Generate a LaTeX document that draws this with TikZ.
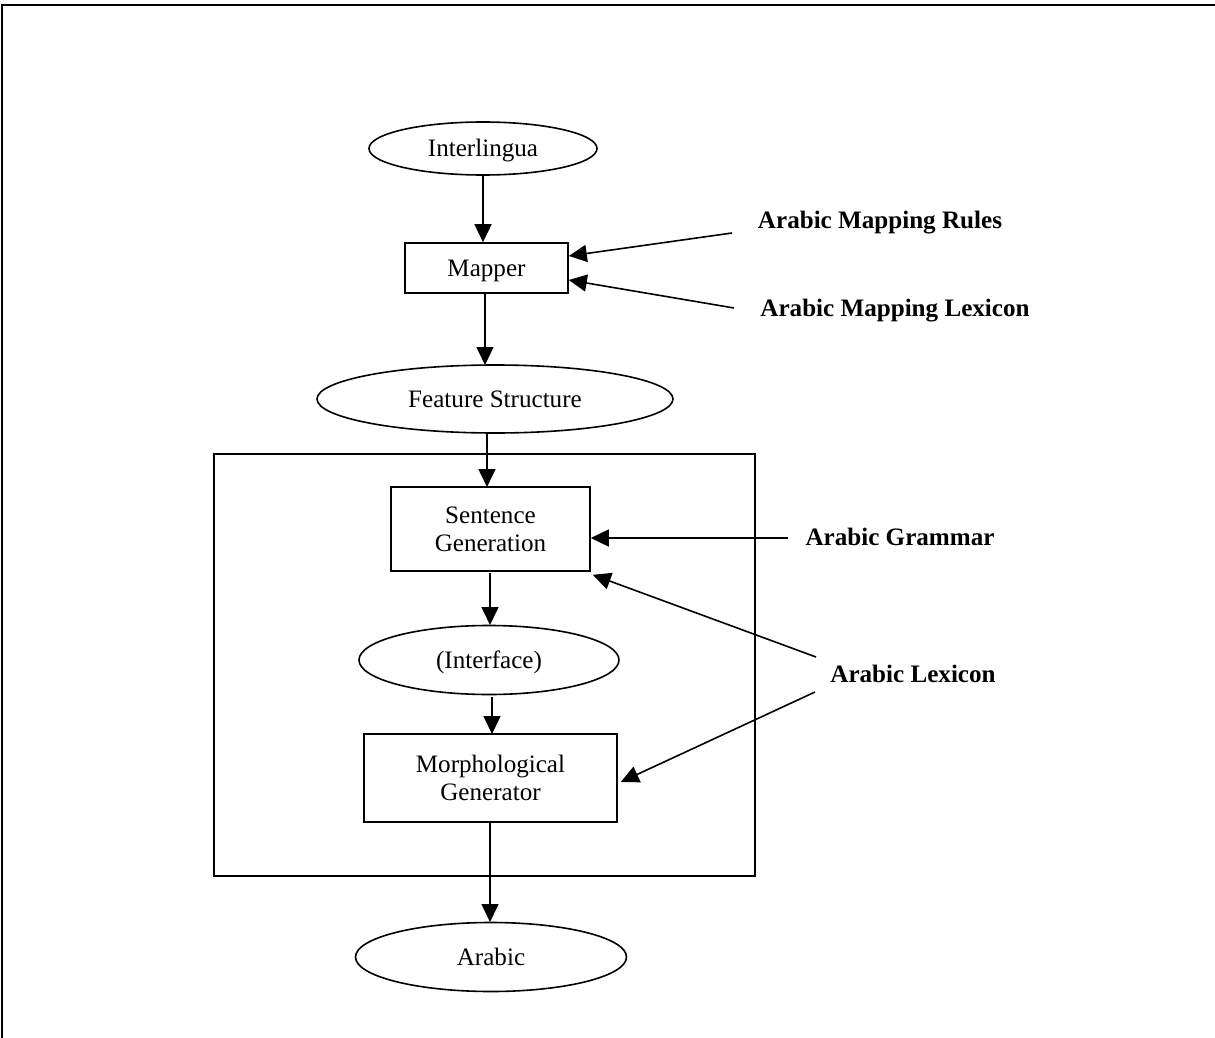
\documentclass[tikz,border=0pt]{standalone}
\usepackage{fontspec}
\setmainfont{Liberation Serif}
\usetikzlibrary{arrows.meta,shapes.geometric}
\begin{document}
\begin{tikzpicture}[x=1pt,y=-1pt,
  font=\fontsize{25.1}{28}\selectfont,
  base/.style={line width=1.6pt, inner sep=0pt},
  one/.style={text height=16.6pt, text depth=0pt},
  two/.style={align=center},
  oval/.style={base, draw, ellipse},
  box/.style={base, draw, rectangle},
  lbl/.style={font=\fontsize{25.1}{28}\selectfont\bfseries, inner sep=0pt, anchor=base},
  arr/.style={line width=1.6pt, -{Triangle[length=18pt,width=17pt]}}
]
\useasboundingbox (0,0) rectangle (1215,1038);
% outer frame (top and left edges visible)
\draw[line width=2.2pt] (2,1038) -- (2,5) -- (1215,5);

% grouping frame
\node[box, minimum width=541pt, minimum height=422pt] (frame) at (484.5,665) {};

% main nodes
\node[oval, one, minimum width=228pt, minimum height=53pt] (inter) at (483,148.5) {Interlingua};
\node[box, one, minimum width=163pt, minimum height=50pt] (mapper) at (486.5,268) {Mapper};
\node[oval, one, minimum width=356pt, minimum height=68pt] (fs) at (495,399) {Feature Structure};
\node[box, two, minimum width=199pt, minimum height=84pt] (sent) at (490.5,529) {Sentence\\Generation};
\node[oval, one, minimum width=260pt, minimum height=69pt] (iface) at (489,660) {(Interface)};
\node[box, two, minimum width=253pt, minimum height=88pt] (morph) at (490.5,778) {Morphological\\Generator};
\node[oval, one, minimum width=271pt, minimum height=69pt] (arabic) at (491,957) {Arabic};

% labels
\node[lbl] (rules) at (880,228) {Arabic Mapping Rules};
\node[lbl] (mlex) at (895,316) {Arabic Mapping Lexicon};
\node[lbl] (gram) at (900,545) {Arabic Grammar};
\node[lbl] (alex) at (913,682) {Arabic Lexicon};

% free ends of side connectors
\coordinate (rs) at (732,233);
\coordinate (ms) at (734,308);
\coordinate (gs) at (788,538);
\coordinate (l1) at (816,657);
\coordinate (l2) at (815,692);

% vertical flow
\draw[arr] (inter.south) -- (inter.south |- mapper.north);
\draw[arr] (485,293) -- (485,365);
\draw[arr] (487,433) -- (487,487);
\draw[arr] (490,573) -- (490,625);
\draw[arr] (492,697) -- (492,734);
\draw[arr] (490,822) -- (490,922);

% side connectors
\draw[arr] (rs) -- ([yshift=12pt]mapper.east);
\draw[arr] (ms) -- ([yshift=-12pt]mapper.east);
\draw[arr] (gs) -- ([yshift=-9pt]sent.east);
\draw[arr] (l1) -- ([xshift=2pt,yshift=-3pt]sent.south east);
\draw[arr] (l2) -- ([xshift=3pt,yshift=-4pt]morph.east);
\end{tikzpicture}
\end{document}
